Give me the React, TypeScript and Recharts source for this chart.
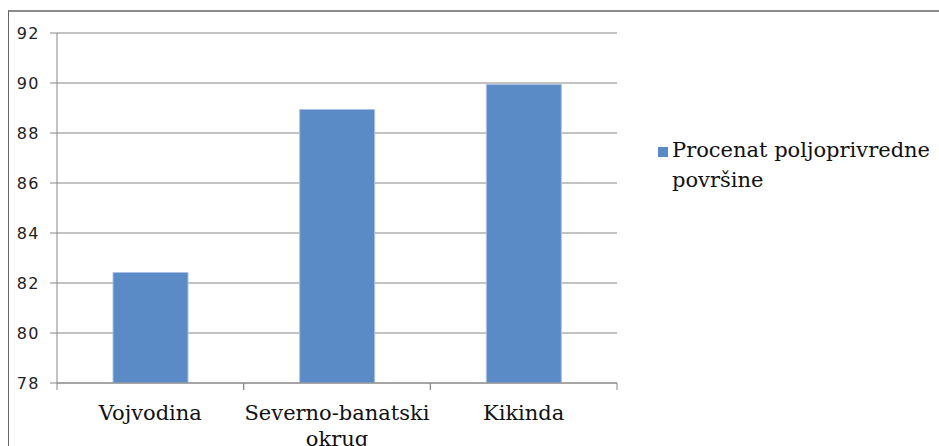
import React from "react";
import { BarChart, Bar, XAxis, YAxis, CartesianGrid, Legend } from "recharts";

const CATEGORIES = ["Vojvodina", "Severno-banatski okrug", "Kikinda"];
const VALUES = [82.42, 88.94, 89.94];
const SERIES_NAME = "Procenat poljoprivredne površine";
const Y_TICKS = [78, 80, 82, 84, 86, 88, 90, 92];

const data = CATEGORIES.map((c, i) => ({ name: c, value: VALUES[i] }));

const GRID = "#878787";
const BAR = "#5B8BC6";
const SERIF = "DejaVu Serif";

const splitLabel = (s: string): string[] => {
  if (s.length <= 16) return [s];
  const i = s.lastIndexOf(" ");
  return i > 0 ? [s.slice(0, i), s.slice(i + 1)] : [s];
};

const XTick = (props: any) => {
  const { x, y, payload } = props;
  const half = payload?.offset ?? 0;
  const lines = splitLabel(String(payload.value));
  return (
    <g>
      <line x1={x - half} x2={x - half} y1={y - 21} y2={y - 14} stroke={GRID} />
      <line x1={x + half} x2={x + half} y1={y - 21} y2={y - 14} stroke={GRID} />
      <text x={x} y={y + 16} textAnchor="middle" fontFamily={SERIF} fontSize={21} fill="#111">
        {lines.map((l, i) => (
          <tspan key={i} x={x} dy={i === 0 ? 0 : 26}>
            {l}
          </tspan>
        ))}
      </text>
    </g>
  );
};

const LegendContent = (props: any) => {
  const items = props.payload || [];
  return (
    <div>
      {items.map((it: any, i: number) => (
        <div key={i} style={{ display: "flex", alignItems: "flex-start" }}>
          <div style={{ width: 10, height: 10, background: BAR, marginTop: 12, marginRight: 4, flex: "0 0 auto" }} />
          <div
            style={{
              fontFamily: SERIF,
              fontSize: 21,
              lineHeight: "30px",
              color: "#111",
              width: 285,
            }}
          >
            {it.value}
          </div>
        </div>
      ))}
    </div>
  );
};

export default function App() {
  return (
    <div style={{ position: "absolute", left: 0, top: 0, width: 939, height: 446, overflow: "hidden", background: "#fff" }}>
      <div
        style={{
          position: "absolute",
          left: 8,
          top: 10,
          width: 940,
          height: 460,
          borderLeft: "1px solid #666",
          borderTop: "2px solid #8a8a8a",
        }}
      />
      <div style={{ position: "absolute", left: 0, top: 0 }}>
        <BarChart
          width={939}
          height={446}
          data={data}
          margin={{ top: 33, right: 322, bottom: 33, left: 0 }}
          barCategoryGap="30%"
        >
          <CartesianGrid horizontal vertical={false} stroke={GRID} strokeDasharray="" />
          <XAxis
            dataKey="name"
            stroke={GRID}
            tickLine={false}
            tickSize={7}
            tickMargin={14}
            interval={0}
            tick={<XTick />}
          />
          <YAxis
            width={57}
            domain={[78, 92]}
            ticks={Y_TICKS}
            stroke={GRID}
            tickSize={7}
            tickMargin={10}
            tick={{ fontFamily: "DejaVu Sans", fontSize: 16, fill: "#222", letterSpacing: 1.5 }}
            allowDataOverflow
          />
          <Legend
            layout="vertical"
            align="center"
            verticalAlign="middle"
            content={<LegendContent />}
            wrapperStyle={{ left: 658, top: 135, width: 300 }}
          />
          <Bar
            dataKey="value"
            name={SERIES_NAME}
            fill={BAR}
            stroke="#a9c2e3"
            strokeWidth={1}
            isAnimationActive={false}
          />
        </BarChart>
      </div>
    </div>
  );
}
